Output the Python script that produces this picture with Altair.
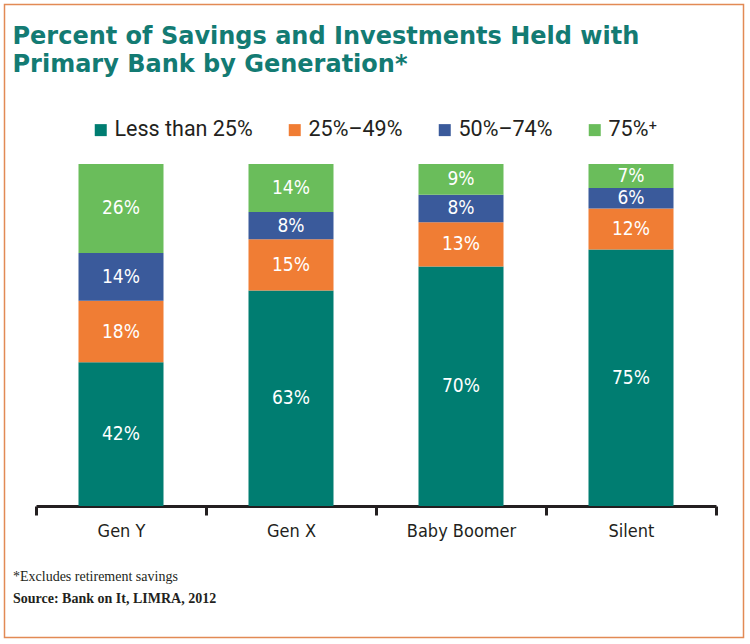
import altair as alt
import pandas as pd

generations = ["Gen Y", "Gen X", "Baby Boomer", "Silent"]
categories = ["Less than 25%", "25%–49%", "50%–74%", "75%⁺"]
less_than_25 = [42, 63, 70, 75]
pct_25_49 = [18, 15, 13, 12]
pct_50_74 = [14, 8, 8, 6]
pct_75_plus = [26, 14, 9, 7]
colors = ["#007D71", "#F07D34", "#3A5A9B", "#6ABD5B"]
title_lines = ["Percent of Savings and Investments Held with", "Primary Bank by Generation*"]
footnote = "*Excludes retirement savings"
source = "Source: Bank on It, LIMRA, 2012"

NARROW = "Liberation Sans Narrow, DejaVu Sans Condensed, sans-serif"
DARK = "#231F20"
TEAL = "#137B73"

rows = []
series = [less_than_25, pct_25_49, pct_50_74, pct_75_plus]
for k, (cat, vals) in enumerate(zip(categories, series)):
    for g, v in zip(generations, vals):
        rows.append({"generation": g, "category": cat, "k": k, "value": v})
df = pd.DataFrame(rows)

base = alt.Chart(df).transform_stack(
    stack="value", groupby=["generation"], as_=["y0", "y1"],
    sort=[alt.SortField("k", order="ascending")]
).transform_calculate(
    mid="(datum.y0 + datum.y1) / 2", label="datum.value + '%'"
)

xscale = alt.Scale(paddingInner=0, paddingOuter=0)
yscale = alt.Scale(domain=[0, 100])

bars = base.mark_bar(width=alt.RelativeBandSize(0.5)).encode(
    x=alt.X("generation:N", sort=generations, title=None, scale=xscale,
            axis=alt.Axis(domainColor=DARK, domainWidth=3, tickColor=DARK, tickWidth=3,
                          tickSize=9, tickBand="extent", labelFont=NARROW, labelFontSize=18,
                          labelColor=DARK, labelPadding=7, labelAngle=0, title=None)),
    y=alt.Y("y0:Q", scale=yscale, axis=None),
    y2="y1:Q",
    color=alt.Color("category:N", sort=categories,
                    scale=alt.Scale(domain=categories, range=colors),
                    legend=alt.Legend(title=None, orient="none", legendX=54, legendY=-45,
                                      direction="horizontal", columns=4, columnPadding=31,
                                      symbolType="square", symbolSize=144, symbolStrokeWidth=0,
                                      symbolOpacity=1,
                                      labelFont="Roboto", labelFontSize=21.5, labelColor=DARK,
                                      labelOffset=3, padding=0, labelLimit=0)),
)

labels = base.mark_text(font=NARROW, fontSize=19, color="white").encode(
    x=alt.X("generation:N", sort=generations, scale=xscale),
    y=alt.Y("mid:Q", scale=yscale),
    text="label:N",
)

title = alt.Chart(pd.DataFrame({"t": ["\n".join(title_lines)]})).mark_text(
    font="DejaVu Sans", fontWeight="bold", fontSize=24, color=TEAL, align="left",
    baseline="alphabetic", lineBreak="\n", lineHeight=28
).encode(text="t:N", x=alt.value(-23.5), y=alt.value(-120))

foot1 = alt.Chart(pd.DataFrame({"t": [footnote]})).mark_text(
    font="Liberation Serif", fontSize=14, color=DARK, align="left", baseline="alphabetic"
).encode(text="t:N", x=alt.value(-23), y=alt.value(417))

foot2 = alt.Chart(pd.DataFrame({"t": [source]})).mark_text(
    font="Liberation Serif", fontWeight="bold", fontSize=14, color=DARK, align="left",
    baseline="alphabetic"
).encode(text="t:N", x=alt.value(-23), y=alt.value(439))

border = alt.Chart(pd.DataFrame({"t": [0]})).mark_rect(
    fill=None, stroke="#E28A55", strokeWidth=1.5
).encode(x=alt.value(-31.5), x2=alt.value(707.5), y=alt.value(-159.5), y2=alt.value(473.5))

chart = alt.layer(border, bars, labels, title, foot1, foot2).properties(
    width=680, height=342,
    autosize=alt.AutoSizeParams(type="none"),
    padding={"left": 36, "top": 164, "right": 34, "bottom": 138},
    background="white",
).configure_view(stroke=None)

chart.save("out.html", embed_options={"renderer": "svg", "actions": False})
